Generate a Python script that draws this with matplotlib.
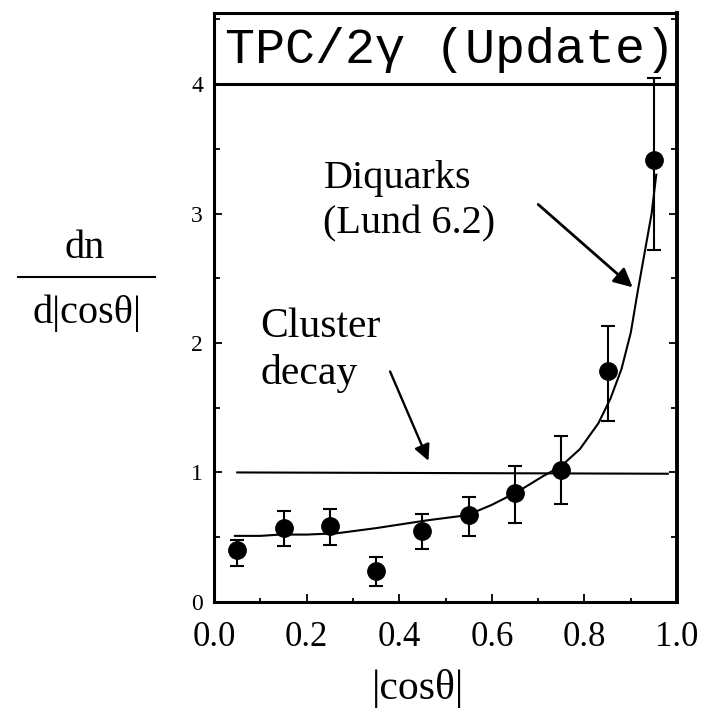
import numpy as np
import matplotlib
matplotlib.use("Agg")
import matplotlib.pyplot as plt
from matplotlib.lines import Line2D
from matplotlib.ticker import MultipleLocator

# dados
cos_bins = [0.05, 0.15, 0.25, 0.35, 0.45, 0.55, 0.65, 0.75, 0.85, 0.95]
dn_vals = [0.40, 0.57, 0.59, 0.24, 0.55, 0.67, 0.84, 1.02, 1.78, 3.41]
err_up = [0.48, 0.70, 0.72, 0.35, 0.68, 0.81, 1.05, 1.28, 2.13, 4.05]
err_dn = [0.28, 0.43, 0.44, 0.12, 0.41, 0.51, 0.61, 0.76, 1.40, 2.72]

# curva Lund 6.2 (diquarks)
lund_x = [0.045, 0.10, 0.143, 0.20, 0.265, 0.35, 0.46, 0.547, 0.60, 0.655,
          0.71, 0.75, 0.79, 0.83, 0.856, 0.88, 0.90, 0.915, 0.93, 0.945, 0.955]
lund_y = [0.51, 0.51, 0.52, 0.52, 0.53, 0.57, 0.63, 0.67, 0.75, 0.85,
          0.97, 1.05, 1.18, 1.38, 1.57, 1.80, 2.08, 2.40, 2.70, 3.00, 3.30]

# cluster decay (plano)
cluster_x = [0.05, 0.98]
cluster_y = [1.0, 0.99]

y_ticks = [0, 1, 2, 3, 4]
x_ticks = [0.0, 0.2, 0.4, 0.6, 0.8, 1.0]
x_ticklabels = ["0.0", "0.2", "0.4", "0.6", "0.8", "1.0"]

serif = "Liberation Serif"

fig = plt.figure(figsize=(7.09, 7.14), dpi=100)
ax = fig.add_axes([0.302, 0.157, 0.653, 0.825])

yerr = [np.array(dn_vals) - np.array(err_dn), np.array(err_up) - np.array(dn_vals)]
ax.errorbar(cos_bins, dn_vals, yerr=yerr, fmt="o", color="black", ms=12.5,
            elinewidth=1.5, capsize=4.7, capthick=1.5)
ax.plot(lund_x, lund_y, color="black", lw=1.5)
ax.plot(cluster_x, cluster_y, color="black", lw=1.5)

# caixa do titulo
ax.axhline(4, color="black", lw=2.2)
ax.text(0.51, 4.16, "TPC/2γ (Update)", ha="center", va="baseline",
        family="Liberation Mono", fontsize=36)

ax.text(0.236, 3.2, "Diquarks", family=serif, fontsize=29, va="baseline")
ax.text(0.236, 2.85, "(Lund 6.2)", family=serif, fontsize=29, va="baseline")
ax.text(0.10, 2.05, "Cluster", family=serif, fontsize=30, va="baseline")
ax.text(0.10, 1.68, "decay", family=serif, fontsize=30, va="baseline")

arr = dict(arrowstyle="-|>", color="black", lw=2, mutation_scale=28,
           shrinkA=0, shrinkB=0)
ax.annotate("", xy=(0.904, 2.43), xytext=(0.70, 3.07), arrowprops=arr)
arr2 = dict(arr, lw=1.7, mutation_scale=24)
ax.annotate("", xy=(0.463, 1.09), xytext=(0.38, 1.78), arrowprops=arr2)

ax.set_xlim(0, 1)
ax.set_ylim(0, 4.55)
ax.set_xticks(x_ticks)
ax.set_xticklabels(x_ticklabels, family=serif, fontsize=25)
ax.set_yticks(y_ticks)
ax.set_yticklabels([str(t) for t in y_ticks], family=serif, fontsize=17)
ax.xaxis.set_minor_locator(MultipleLocator(0.1))
ax.yaxis.set_minor_locator(MultipleLocator(0.5))
ax.tick_params(axis="both", which="both", direction="in", width=1.3)
ax.tick_params(axis="x", which="major", length=6, pad=14)
ax.tick_params(axis="x", which="minor", length=3)
ax.tick_params(axis="y", which="major", length=6, pad=8, right=True)
ax.tick_params(axis="y", which="minor", length=4, right=True)
for s in ["left", "bottom", "top"]:
    ax.spines[s].set_linewidth(2.2)
ax.spines["right"].set_linewidth(2.8)

# rotulo do eixo y em forma de fracao
fig.text(0.12, 0.639, "dn", family=serif, fontsize=29, ha="center", va="baseline")
fig.add_artist(Line2D([0.026, 0.219], [0.612, 0.612], color="black", lw=1.5))
fig.text(0.1227, 0.547, "d|cosθ|", family=serif, fontsize=29, ha="center", va="baseline")
fig.text(0.59, 0.008, "|cosθ|", family=serif, fontsize=30, ha="center", va="bottom")

fig.savefig("out.png", dpi=100)
